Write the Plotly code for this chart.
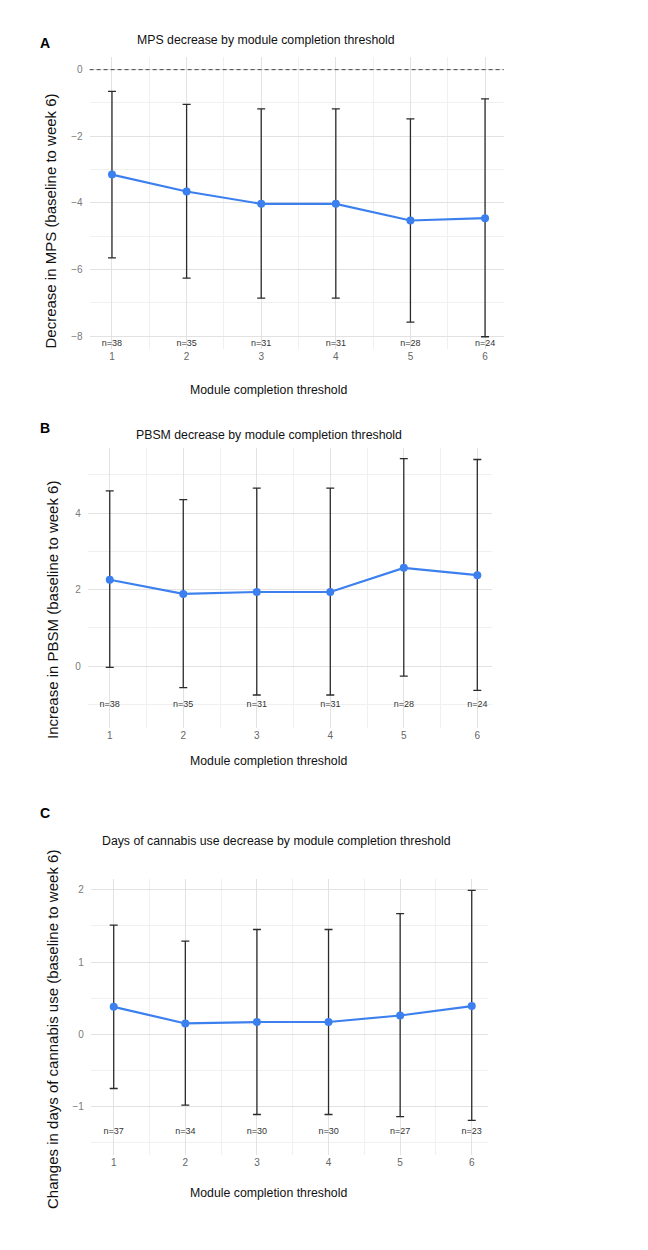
import plotly.graph_objects as go

# page body has an 8px margin, so the figure is placed at (8, 8)
OFF = 8
W, H = 632, 1234

thresholds = [1, 2, 3, 4, 5, 6]
tick_labels = ["1", "2", "3", "4", "5", "6"]

mps_mean = [-3.15, -3.66, -4.03, -4.03, -4.53, -4.46]
mps_lower = [-5.65, -6.26, -6.86, -6.86, -7.58, -8.02]
mps_upper = [-0.65, -1.04, -1.18, -1.18, -1.48, -0.88]
mps_n = [38, 35, 31, 31, 28, 24]

pbsm_mean = [2.26, 1.89, 1.94, 1.94, 2.57, 2.38]
pbsm_lower = [-0.03, -0.56, -0.75, -0.75, -0.26, -0.63]
pbsm_upper = [4.58, 4.35, 4.65, 4.65, 5.42, 5.40]
pbsm_n = [38, 35, 31, 31, 28, 24]

days_mean = [0.38, 0.15, 0.17, 0.17, 0.26, 0.39]
days_lower = [-0.75, -0.98, -1.11, -1.11, -1.14, -1.19]
days_upper = [1.51, 1.29, 1.45, 1.45, 1.67, 1.99]
days_n = [37, 34, 30, 30, 27, 23]

n_label_y = [-8.24, -1.0, -1.35]

panels = [
    dict(mean=mps_mean, lo=mps_lower, hi=mps_upper, n=mps_n,
         title="MPS decrease by module completion threshold",
         ytitle="Decrease in MPS (baseline to week 6)",
         letter="A",
         xpx=(89.6, 503.7), ypx=(57, 349.4), xr=[0.7, 6.25], yr=[-8.4, 0.38],
         ytick=[0, -2, -4, -6, -8], ymin=dict(tick0=-1, dtick=2),
         title_xy=(265.5, 40), letter_xy=(45, 43), ytitle_xy=(49.5, 221), xtitle_y=390),
    dict(mean=pbsm_mean, lo=pbsm_lower, hi=pbsm_upper, n=pbsm_n,
         title="PBSM decrease by module completion threshold",
         ytitle="Increase in PBSM (baseline to week 6)",
         letter="B",
         xpx=(87.7, 492.0), ypx=(448, 728.3), xr=[0.7, 6.2], yr=[-1.62, 5.7],
         ytick=[0, 2, 4], ymin=dict(tick0=-1, dtick=2),
         title_xy=(269, 435), letter_xy=(45, 428), ytitle_xy=(52, 610), xtitle_y=761),
    dict(mean=days_mean, lo=days_lower, hi=days_upper, n=days_n,
         title="Days of cannabis use decrease by module completion threshold",
         ytitle="Changes in days of cannabis use (baseline to week 6)",
         letter="C",
         xpx=(90.8, 487.5), ypx=(878.9, 1155), xr=[0.68, 6.22], yr=[-1.67, 2.15],
         ytick=[-1, 0, 1, 2], ymin=dict(tick0=-0.5, dtick=1),
         title_xy=(276.5, 841), letter_xy=(45, 813), ytitle_xy=(52, 1030), xtitle_y=1193),
]

BLUE = "#3b80ee"
GRID = "#e2e2e2"
MINOR = "#f0f0f0"
FONT = "Liberation Sans, Arial, sans-serif"

fig = go.Figure()
annotations = []
shapes = []
layout = {}


def px(x):
    return (x - OFF) / W


def py(y):
    return 1 - (y - OFF) / H


for i, p in enumerate(panels):
    k = "" if i == 0 else str(i + 1)
    xa, ya = "x" + k, "y" + k
    plus = [h - m for h, m in zip(p["hi"], p["mean"])]
    minus = [m - l for m, l in zip(p["mean"], p["lo"])]
    fig.add_trace(go.Scatter(
        x=thresholds, y=p["mean"], mode="lines+markers",
        line=dict(color=BLUE, width=2.2),
        marker=dict(color=BLUE, size=8),
        error_y=dict(type="data", symmetric=False, array=plus, arrayminus=minus,
                     color="#2b2b2b", thickness=1.3, width=4),
        xaxis=xa, yaxis=ya, showlegend=False, hoverinfo="skip"))
    fig.add_trace(go.Scatter(
        x=thresholds, y=[n_label_y[i]] * len(thresholds),
        mode="text", text=[f"n={v}" for v in p["n"]],
        textfont=dict(size=9, color="#333333", family=FONT),
        xaxis=xa, yaxis=ya, showlegend=False, hoverinfo="skip", cliponaxis=False))

    layout["xaxis" + k] = dict(
        domain=[px(p["xpx"][0]), px(p["xpx"][1])], anchor=ya, range=p["xr"],
        tickvals=thresholds, ticktext=tick_labels, showgrid=True, gridcolor=GRID,
        gridwidth=1, zeroline=False, showline=False, ticks="",
        tickfont=dict(size=10, color="#666666", family=FONT),
        minor=dict(tick0=0.5, dtick=1, showgrid=True, gridcolor=MINOR, gridwidth=1))
    layout["yaxis" + k] = dict(
        domain=[py(p["ypx"][1]), py(p["ypx"][0])], anchor=xa, range=p["yr"],
        tickvals=p["ytick"], showgrid=True, gridcolor=GRID, gridwidth=1,
        zeroline=False, showline=False, ticks="outside", ticklen=4, tickcolor="rgba(0,0,0,0)",
        tickfont=dict(size=10, color="#7a7a7a", family=FONT),
        minor=dict(tick0=p["ymin"]["tick0"], dtick=p["ymin"]["dtick"],
                   showgrid=True, gridcolor=MINOR, gridwidth=1))

    annotations.append(dict(text=p["title"], x=px(p["title_xy"][0]), y=py(p["title_xy"][1]),
                            xref="paper", yref="paper", showarrow=False,
                            xanchor="center", yanchor="middle",
                            font=dict(size=12.3, color="#111111", family=FONT)))
    annotations.append(dict(text="<b>" + p["letter"] + "</b>", x=px(p["letter_xy"][0]),
                            y=py(p["letter_xy"][1]), xref="paper", yref="paper",
                            showarrow=False, xanchor="center", yanchor="middle",
                            font=dict(size=14, color="#000000", family=FONT)))
    annotations.append(dict(text=p["ytitle"], x=px(p["ytitle_xy"][0]), y=py(p["ytitle_xy"][1]),
                            xref="paper", yref="paper", showarrow=False, textangle=-90,
                            xanchor="center", yanchor="middle",
                            font=dict(size=15, color="#111111", family=FONT)))
    annotations.append(dict(text="Module completion threshold", x=px(268.7), y=py(p["xtitle_y"]),
                            xref="paper", yref="paper", showarrow=False,
                            xanchor="center", yanchor="middle",
                            font=dict(size=12.3, color="#111111", family=FONT)))

shapes.append(dict(type="line", xref="x domain", yref="y", x0=0, x1=1, y0=0, y1=0,
                   line=dict(color="#444444", width=1, dash="4px,3px"), layer="above"))

fig.update_layout(
    width=W, height=H, margin=dict(l=0, r=0, t=0, b=0),
    paper_bgcolor="white", plot_bgcolor="white",
    annotations=annotations, shapes=shapes,
    font=dict(family=FONT), **layout)

fig.write_html("out.html")
